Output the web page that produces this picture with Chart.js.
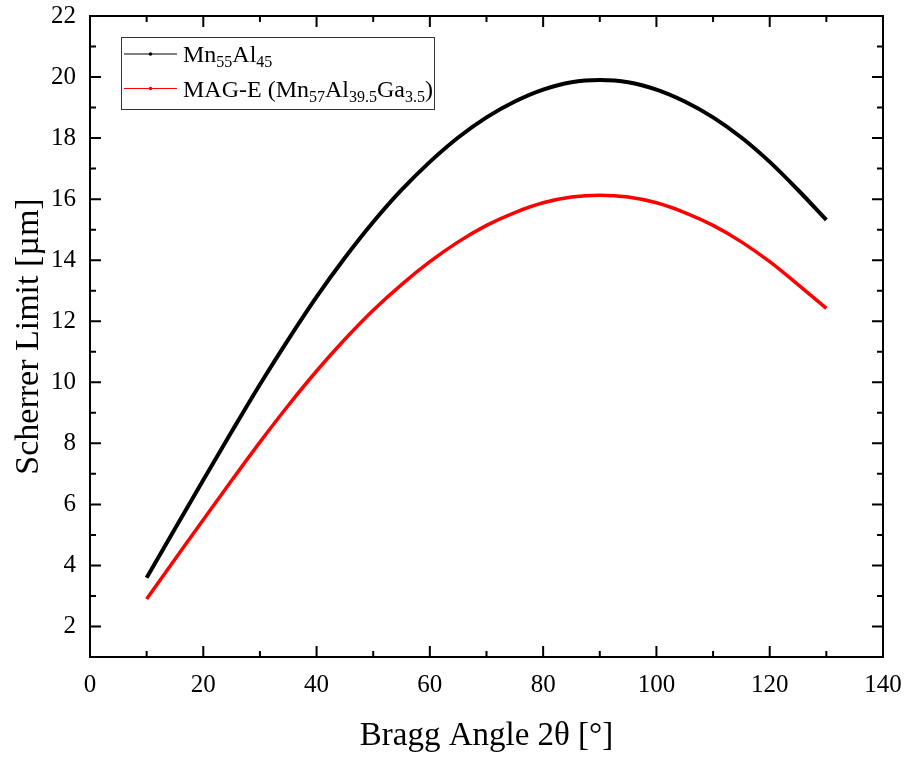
<!DOCTYPE html>
<html>
<head>
<meta charset="utf-8">
<script src="https://cdn.jsdelivr.net/npm/chart.js@4.4.1/dist/chart.umd.min.js"></script>
<style>
  html, body { margin: 0; padding: 0; background: #fff; }
</style>
</head>
<body>
<canvas id="myChart" width="907" height="760"></canvas>
<script>
// values
const angles = [10, 15, 20, 25, 30, 35, 40, 45, 50, 55, 60, 65, 70, 75, 80, 85, 90, 95, 100, 105, 110, 115, 120, 125, 130]
const mnAl = [3.6, 5.2, 6.8, 8.38, 9.93, 11.4, 12.8, 14.08, 15.25, 16.3, 17.22, 18.02, 18.68, 19.2, 19.59, 19.83, 19.9, 19.83, 19.59, 19.2, 18.68, 18.02, 17.22, 16.3, 15.32]
const magE = [2.9, 4.2, 5.5, 6.78, 8.04, 9.24, 10.37, 11.41, 12.36, 13.2, 13.95, 14.6, 15.14, 15.56, 15.88, 16.07, 16.13, 16.07, 15.88, 15.56, 15.14, 14.6, 13.95, 13.2, 12.42]
const xTicks = [0, 20, 40, 60, 80, 100, 120, 140]
const yTicks = [2, 4, 6, 8, 10, 12, 14, 16, 18, 20, 22]

const legendItems = [
  { color: '#000', parts: [['Mn', 0], ['55', 1], ['Al', 0], ['45', 1]] },
  { color: '#ff0000', parts: [['MAG-E (Mn', 0], ['57', 1], ['Al', 0], ['39.5', 1], ['Ga', 0], ['3.5', 1], [')', 0]] }
]

const FONT = "'Liberation Serif', 'Times New Roman', serif"

function midpoints(arr) {
  const out = []
  for (let i = 0; i < arr.length - 1; i++) out.push((arr[i] + arr[i + 1]) / 2)
  return out
}

// frame, inward ticks on all four sides, and the legend box
const framePlugin = {
  id: 'frame',
  afterDraw(chart) {
    const { ctx, chartArea: a, scales } = chart
    const x = scales.x, y = scales.y
    ctx.save()
    ctx.strokeStyle = '#000'
    ctx.lineWidth = 2
    ctx.strokeRect(a.left, a.top, a.right - a.left, a.bottom - a.top)

    const major = 11, minor = 6
    ctx.beginPath()
    xTicks.forEach(v => {
      const px = x.getPixelForValue(v)
      ctx.moveTo(px, a.bottom); ctx.lineTo(px, a.bottom - major)
      ctx.moveTo(px, a.top); ctx.lineTo(px, a.top + major)
    })
    midpoints(xTicks).forEach(v => {
      const px = x.getPixelForValue(v)
      ctx.moveTo(px, a.bottom); ctx.lineTo(px, a.bottom - minor)
      ctx.moveTo(px, a.top); ctx.lineTo(px, a.top + minor)
    })
    yTicks.forEach(v => {
      const py = y.getPixelForValue(v)
      ctx.moveTo(a.left, py); ctx.lineTo(a.left + major, py)
      ctx.moveTo(a.right, py); ctx.lineTo(a.right - major, py)
    })
    midpoints(yTicks).forEach(v => {
      const py = y.getPixelForValue(v)
      ctx.moveTo(a.left, py); ctx.lineTo(a.left + minor, py)
      ctx.moveTo(a.right, py); ctx.lineTo(a.right - minor, py)
    })
    ctx.stroke()

    // legend
    const bx = 121, by = 37, bw = 313, bh = 72
    ctx.lineWidth = 1
    ctx.strokeStyle = '#333'
    ctx.strokeRect(bx + 0.5, by + 0.5, bw, bh)
    legendItems.forEach((item, i) => {
      const ly = 54 + i * 34.5
      ctx.strokeStyle = item.color
      ctx.lineWidth = 1.2
      ctx.beginPath()
      ctx.moveTo(124, ly); ctx.lineTo(177, ly)
      ctx.stroke()
      ctx.fillStyle = item.color
      ctx.beginPath()
      ctx.arc(150.5, ly, 1.8, 0, Math.PI * 2)
      ctx.fill()

      let tx = 183
      const base = ly + 8
      ctx.fillStyle = '#000'
      ctx.textBaseline = 'alphabetic'
      ctx.textAlign = 'left'
      item.parts.forEach(([t, sub]) => {
        ctx.font = (sub ? '16px ' : '24px ') + FONT
        ctx.fillText(t, tx, sub ? base + 5 : base)
        tx += ctx.measureText(t).width
      })
    })
    ctx.restore()
  }
}

const ctx = document.getElementById('myChart')

new Chart(ctx, {
  type: 'line',
  data: {
    datasets: [
      {
        label: 'Mn55Al45',
        data: angles.map((a, i) => ({ x: a, y: mnAl[i] })),
        borderColor: '#000',
        borderWidth: 4,
        pointRadius: 0,
        cubicInterpolationMode: 'monotone',
        fill: false
      },
      {
        label: 'MAG-E (Mn57Al39.5Ga3.5)',
        data: angles.map((a, i) => ({ x: a, y: magE[i] })),
        borderColor: '#ff0000',
        borderWidth: 3.5,
        pointRadius: 0,
        cubicInterpolationMode: 'monotone',
        fill: false
      }
    ]
  },
  options: {
    responsive: false,
    animation: false,
    layout: { padding: { left: 0, top: 16, right: 24, bottom: 0 } },
    plugins: {
      legend: { display: false },
      tooltip: { enabled: false }
    },
    scales: {
      x: {
        type: 'linear',
        min: 0,
        max: 140,
        afterBuildTicks: s => { s.ticks = xTicks.map(v => ({ value: v })) },
        afterFit: s => { s.height = 103; s.paddingLeft = 0; s.paddingRight = 0 },
        grid: { display: false, drawTicks: false },
        border: { display: false },
        ticks: { color: '#000', padding: 13, font: { family: FONT, size: 25 } },
        title: {
          display: true,
          text: 'Bragg Angle 2θ [°]',
          color: '#000',
          font: { family: FONT, size: 33 },
          padding: { top: 0, bottom: 4 }
        }
      },
      y: {
        type: 'linear',
        min: 1,
        max: 22,
        afterBuildTicks: s => { s.ticks = yTicks.map(v => ({ value: v })) },
        afterFit: s => { s.width = 90; s.paddingTop = 0; s.paddingBottom = 0 },
        grid: { display: false, drawTicks: false },
        border: { display: false },
        ticks: { color: '#000', padding: 14, font: { family: FONT, size: 25 } },
        title: {
          display: true,
          text: 'Scherrer Limit [µm]',
          color: '#000',
          font: { family: FONT, size: 34 },
          padding: { top: 9, bottom: 0 }
        }
      }
    }
  },
  plugins: [framePlugin]
})
</script>
</body>
</html>
